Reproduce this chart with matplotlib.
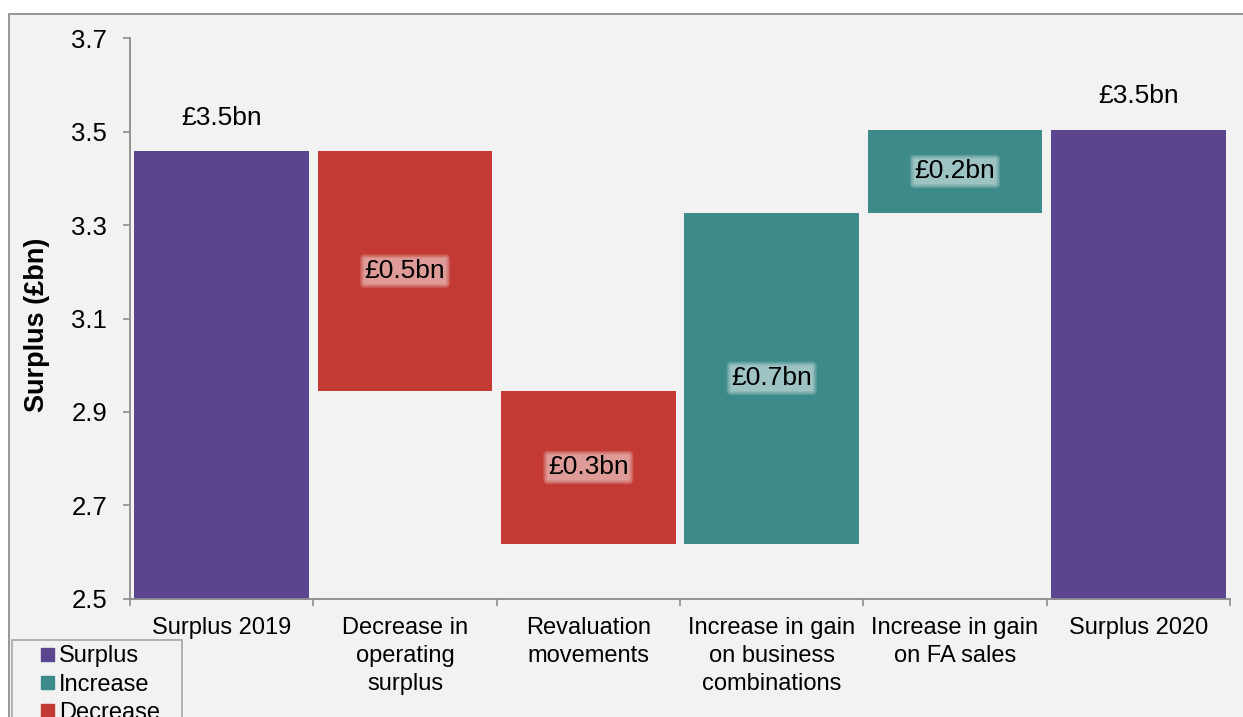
import matplotlib.pyplot as plt
from matplotlib.patches import Rectangle, Patch
from matplotlib.legend_handler import HandlerPatch
import numpy as np

plt.rcParams['font.family'] = ['Liberation Sans', 'DejaVu Sans']

# surplus bridge 2019 -> 2020, £bn
categories = ['Surplus 2019', 'Decrease in\noperating\nsurplus', 'Revaluation\nmovements',
              'Increase in gain\non business\ncombinations', 'Increase in gain\non FA sales',
              'Surplus 2020']
surplus_2019 = 3.459
movements = [-0.515, -0.326, 0.708, 0.178]
legend_labels = ['Surplus', 'Increase', 'Decrease']

PURPLE = '#5c458f'
TEAL = '#3c8a89'
RED = '#c23a33'
BG = '#f2f2f2'
GREY = '#8c8c8c'

surplus_2020 = surplus_2019 + sum(movements)

# build waterfall pieces
bottoms, heights, colours = [0], [surplus_2019], [PURPLE]
level = surplus_2019
for m in movements:
    if m < 0:
        bottoms.append(level + m)
        heights.append(-m)
        colours.append(RED)
    else:
        bottoms.append(level)
        heights.append(m)
        colours.append(TEAL)
    level += m
bottoms.append(0)
heights.append(surplus_2020)
colours.append(PURPLE)

W, H = 1243, 717
fig = plt.figure(figsize=(W / 100, H / 100), dpi=100)
fig.patch.set_facecolor('white')
fig.patches.append(Rectangle((9 / W, -0.1), 1.2, (H - 14) / H + 0.1, transform=fig.transFigure,
                             fc=BG, ec='#8f8f8f', lw=1.3, zorder=-5))

ax = fig.add_axes([130 / W, 1 - 598.7 / H, 1100 / W, (598.7 - 38.3) / H])
ax.patch.set_visible(False)

x = np.arange(len(categories))
ax.bar(x, heights, bottom=bottoms, width=0.951, color=colours, edgecolor='none', zorder=2)

ax.set_xlim(-0.5, len(categories) - 0.5)
ax.set_ylim(2.5, 3.7)
ax.set_yticks(np.arange(2.5, 3.71, 0.2))
ax.set_yticklabels([f'{v:.1f}' for v in np.arange(2.5, 3.71, 0.2)])

ax.set_xticks(x)
ax.set_xticklabels(categories, linespacing=1.33)
ax.set_xticks(np.arange(-0.5, len(categories), 1), minor=True)
ax.tick_params(axis='x', which='major', length=0, pad=13.4, labelsize=17)
ax.tick_params(axis='x', which='minor', length=5, width=1.2, color=GREY, direction='out')
ax.tick_params(axis='y', length=5, width=1.2, color=GREY, pad=11.5, labelsize=18.5)

for s in ['top', 'right']:
    ax.spines[s].set_visible(False)
for s in ['left', 'bottom']:
    ax.spines[s].set_color(GREY)
    ax.spines[s].set_linewidth(1.3)

# value labels; movements get a soft light glow behind the text
for i, (b, h) in enumerate(zip(bottoms, heights)):
    if i in (0, len(categories) - 1):
        ax.annotate(f'£{h:.1f}bn', xy=(i, b + h), xytext=(0, 24), textcoords='offset points',
                    ha='center', va='center', fontsize=19)
    else:
        label = f'£{abs(movements[i - 1]):.1f}bn'
        for pad in (0.03, 0.08, 0.13, 0.18):
            ax.text(i, b + h / 2, label, ha='center', va='center', fontsize=19, color='none',
                    zorder=3, bbox=dict(boxstyle=f'round,pad={pad}', fc=(1, 1, 1, 0.16), ec='none'))
        ax.text(i, b + h / 2, label, ha='center', va='center', fontsize=19, zorder=4)

fig.text(37.5 / W, 1 - 325 / H, 'Surplus (£bn)', rotation=90, ha='center', va='center',
         fontsize=19.5, fontweight='bold')


def square_handle(legend, orig_handle, xdescent, ydescent, width, height, fontsize):
    s = 9.4
    return Rectangle((-xdescent + width - s, -ydescent + (height - s) / 2), s, s)


handles = [Patch(color=c) for c in (PURPLE, TEAL, RED)]
leg = fig.legend(handles, legend_labels, loc='upper left',
                 bbox_to_anchor=(12 / W, 1 - 640 / H, 170 / W, 0), mode='expand',
                 borderaxespad=0, borderpad=0.23, handlelength=1.55, handletextpad=0.2,
                 labelspacing=0.27, fontsize=17, fancybox=False, framealpha=1,
                 facecolor=BG, edgecolor='#a6a6a6',
                 handler_map={Patch: HandlerPatch(patch_func=square_handle)})
leg.get_frame().set_linewidth(1.2)

fig.savefig('out.png', dpi=100)
